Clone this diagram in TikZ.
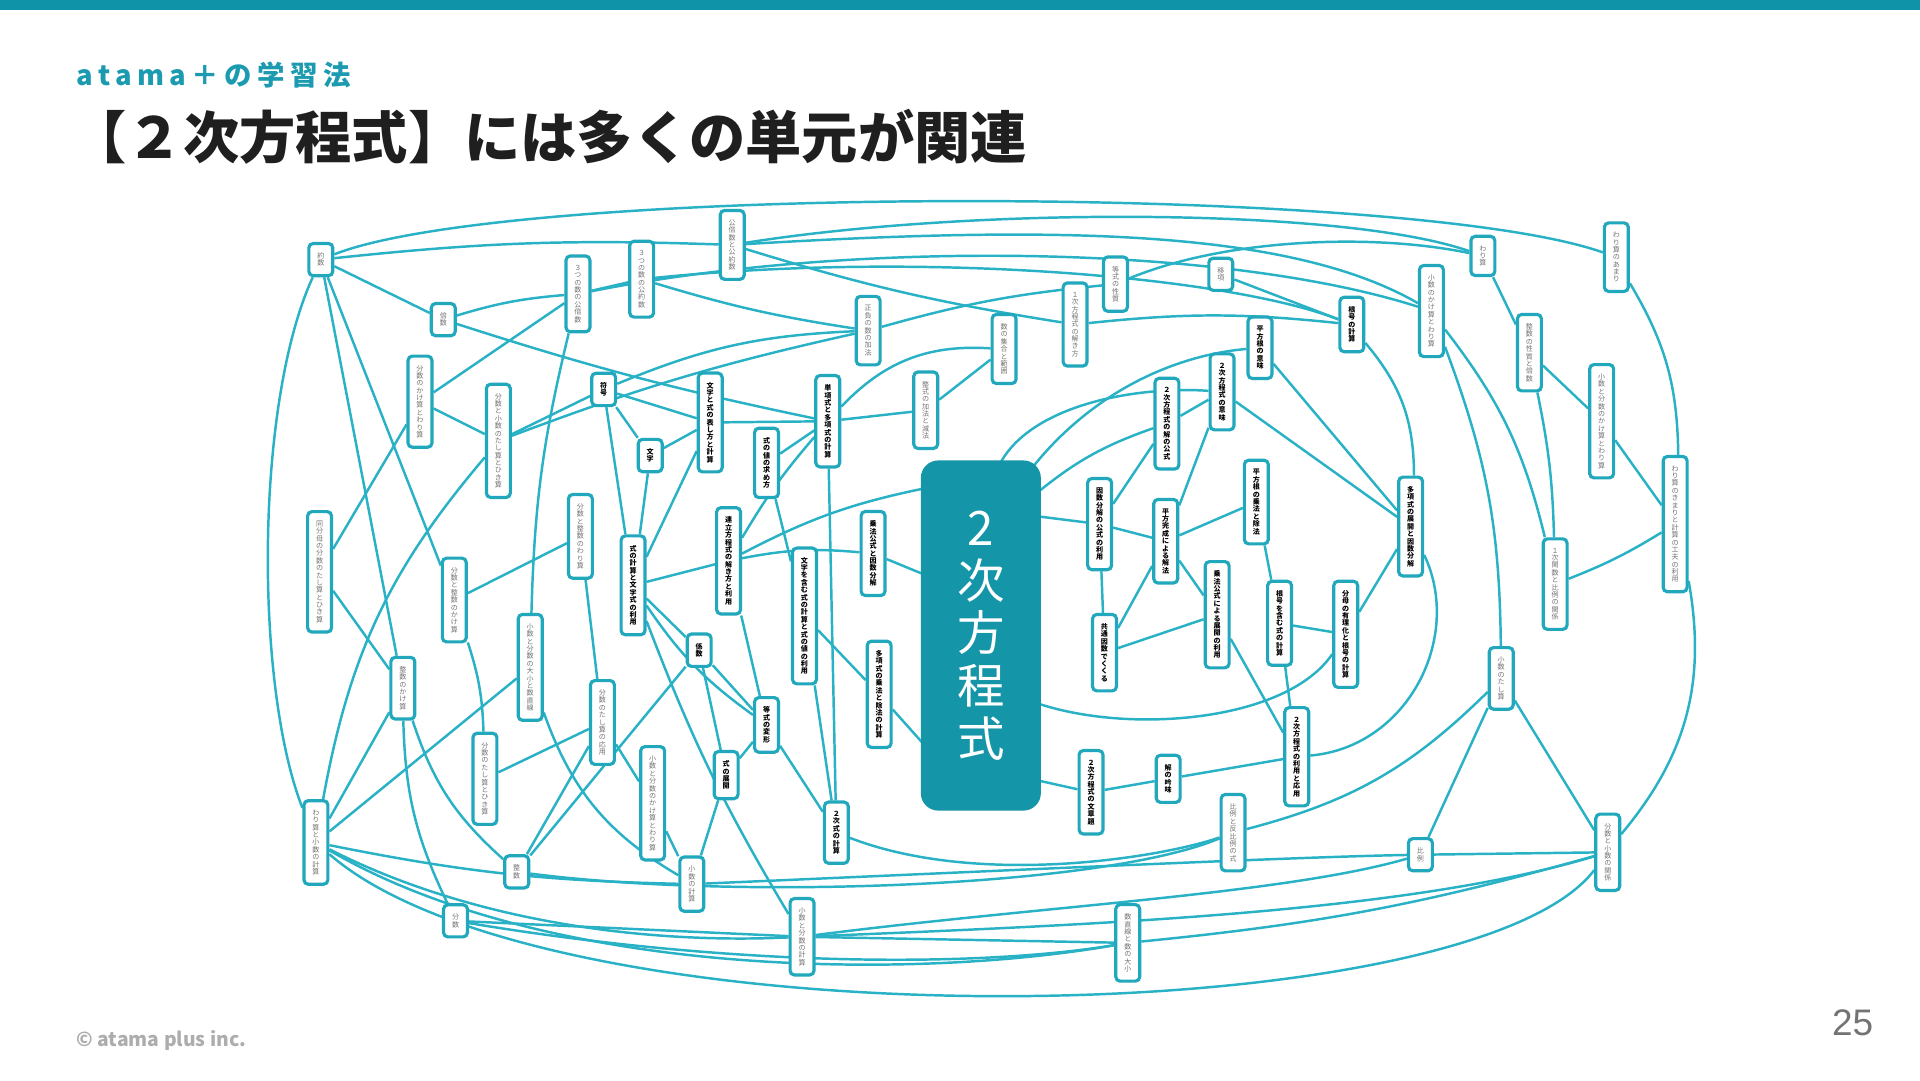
\documentclass[tikz,border=0pt]{standalone}
\usepackage{fontspec}
\setmainfont{Noto Sans CJK JP}
\newfontfamily\subfont[LetterSpace=20]{Noto Sans CJK JP}
\newfontfamily\numfont{Liberation Sans}
\XeTeXlinebreaklocale "ja"
\XeTeXlinebreakskip=0pt plus 1pt
\definecolor{barc}{HTML}{0E93A9}
\definecolor{linec}{HTML}{29B1C5}
\definecolor{boxc}{HTML}{22A8BC}
\definecolor{eqc}{HTML}{1595A8}
\definecolor{subc}{HTML}{1C9BB0}
\pgfdeclarelayer{bg}
\pgfsetlayers{bg,main}
\tikzset{
  unit/.style={draw=boxc, line width=0.9pt, fill=white, rounded corners=1.2pt,
    inner xsep=2.3pt, inner ysep=2.6pt, text width=2.2pt, align=center,
    font=\fontsize{2}{2.1}\selectfont, text=black!55},
  unitb/.style={unit, font=\fontsize{2}{2.1}\selectfont\bfseries, text=black},
  link/.style={draw=linec, line width=0.7pt},
}

\begin{document}
\begin{tikzpicture}[x=0.012245cm, y=-0.012245cm]
\useasboundingbox (0,0) rectangle (1568,882);
\fill[barc] (0,0) rectangle (1568,8);
\node[anchor=west, inner sep=0pt, text=subc, font=\subfont\bfseries\fontsize{7.8}{8}\selectfont] (sub) at (62,61) {atama＋の学習法};
\node[anchor=west, inner sep=0pt, text=black!88, font=\bfseries\fontsize{16}{17}\selectfont] (title) at (57,112) {【２次方程式】には多くの単元が関連};
\node[anchor=west, inner sep=0pt, text=black!32, font=\bfseries\fontsize{5.5}{6}\selectfont] (copy) at (62,850) {© atama plus inc.};
\node[text=black!55, font=\numfont\fontsize{10.5}{11}\selectfont] (page) at (1513,835) {25};

\node[fill=eqc, rounded corners=5pt, minimum width=1.2cm, minimum height=3.5cm, inner sep=0pt, text=white, align=center, font=\fontsize{13.5}{15}\selectfont] (eq) at (801,519) {2\\次\\方\\程\\式};

\node[unit] (u1) at (262,212) {約数};
\node[unit] (u2) at (362,261) {倍数};
\node[unit] (u3) at (472,240) {３つの数の公倍数};
\node[unit] (u4) at (524,228) {３つの数の公約数};
\node[unit] (u5) at (598,200) {公倍数と公約数};
\node[unit] (u6) at (709,270) {正負の数の加法};
\node[unit] (u7) at (343,328) {分数のかけ算とわり算};
\node[unit] (u8) at (407,360) {分数と小数のたし算とひき算};
\node[unitb] (u9) at (493,318) {符号};
\node[unitb] (u10) at (531,372) {文字};
\node[unitb] (u11) at (580,345) {文字と式の表し方と計算};
\node[unitb] (u12) at (626,378) {式の値の求め方};
\node[unitb] (u13) at (676,344) {単項式と多項式の計算};
\node[unit] (u14) at (756,335) {整式の加法と減法};
\node[unit] (u15) at (820,285) {数の集合と範囲};
\node[unit] (u16) at (878,265) {１次方程式の解き方};
\node[unit] (u17) at (911,232) {等式の性質};
\node[unit] (u18) at (997,224) {移項};
\node[unitb] (u19) at (1029,284) {平方根の意味};
\node[unitb] (u20) at (1104,265) {根号の計算};
\node[unitb] (u21) at (998,320) {２次方程式の意味};
\node[unitb] (u22) at (953,346) {２次方程式の解の公式};
\node[unitb] (u23) at (1026,410) {平方根の乗法と除法};
\node[unitb] (u24) at (898,428) {因数分解の公式の利用};
\node[unitb] (u25) at (952,442) {平方完成による解法};
\node[unitb] (u26) at (994,502) {乗法公式による展開の利用};
\node[unitb] (u27) at (902,533) {共通因数でくくる};
\node[unitb] (u28) at (1045,509) {根号を含む式の計算};
\node[unitb] (u29) at (1099,518) {分母の有理化と根号の計算};
\node[unitb] (u30) at (1152,430) {多項式の展開と因数分解};
\node[unitb] (u31) at (1059,618) {２次方程式の利用と応用};
\node[unitb] (u32) at (954,636) {解の吟味};
\node[unitb] (u33) at (891,647) {２次方程式の文章題};
\node[unit] (u34) at (1007,680) {比例と反比例の式};
\node[unit] (u35) at (1160,698) {比例};
\node[unit] (u36) at (1211,209) {わり算};
\node[unit] (u37) at (1169,254) {小数のかけ算とわり算};
\node[unit] (u38) at (1249,288) {整数の性質と倍数};
\node[unit] (u39) at (1320,210) {わり算のあまり};
\node[unit] (u40) at (1308,344) {小数と分数のかけ算とわり算};
\node[unit] (u41) at (1368,428) {わり算のきまりと計算の工夫の利用};
\node[unit] (u42) at (1270,477) {１次関数と比例の関係};
\node[unit] (u43) at (1226,554) {小数のたし算};
\node[unit] (u44) at (1313,696) {分数と小数の関係};
\node[unit] (u45) at (261,467) {同分母の分数のたし算とひき算};
\node[unit] (u46) at (371,490) {分数と整数のかけ算};
\node[unit] (u47) at (329,562) {整数のかけ算};
\node[unit] (u48) at (258,688) {わり算と小数の計算};
\node[unit] (u49) at (396,636) {分数のたし算とひき算};
\node[unit] (u50) at (433,545) {小数と分数の大小と数直線};
\node[unit] (u51) at (474,438) {分数と整数のわり算};
\node[unit] (u52) at (492,590) {分数のたし算の応用};
\node[unitb] (u53) at (517,478) {式の計算と文字式の利用};
\node[unitb] (u54) at (571,531) {係数};
\node[unitb] (u55) at (595,458) {連立方程式の解き方と利用};
\node[unitb] (u56) at (626,592) {等式の変形};
\node[unitb] (u57) at (593,633) {式の展開};
\node[unitb] (u58) at (657,503) {文字を含む式の計算と式の値の利用};
\node[unitb] (u59) at (713,452) {乗法公式と因数分解};
\node[unitb] (u60) at (718,567) {多項式の乗法と除法の計算};
\node[unitb] (u61) at (683,680) {２次式の計算};
\node[unit] (u62) at (533,656) {小数と分数のかけ算とわり算};
\node[unit] (u63) at (565,722) {小数の計算};
\node[unit] (u65) at (422,712) {整数};
\node[unit] (u66) at (372,752) {分数};
\node[unit] (u67) at (655,765) {小数と分数の計算};
\node[unit] (u68) at (921,770) {数直線と数の大小};

\begin{pgfonlayer}{bg}
\draw[link] (u1) .. controls (420,150) and (1150,150) .. (u39);
\draw[link] (u1) to[bend left=4] (u5);
\draw[link] (u1) -- (u2);
\draw[link] (u1) .. controls (208,330) and (208,560) .. (u48);
\draw[link] (u1) -- (u47);
\draw[link] (u1) -- (u46);
\draw[link] (u2) to[bend left=6] (u3);
\draw[link] (u2) to[bend right=3] (u13);
\draw[link] (u3) -- (u4);
\draw[link] (u3) to[bend right=6] (u50);
\draw[link] (u3) .. controls (700,195) and (1000,200) .. (u37);
\draw[link] (u4) to[bend right=4] (u6);
\draw[link] (u4) .. controls (750,205) and (1000,225) .. (u20);
\draw[link] (u5) .. controls (800,168) and (1100,170) .. (u36);
\draw[link] (u5) to[bend right=4] (u16);
\draw[link] (u5) .. controls (850,185) and (1050,185) .. (u37);
\draw[link] (u6) to[bend left=5] (u17);
\draw[link] (u17) .. controls (1000,195) and (1120,190) .. (u36);
\draw[link] (u7) -- (u3);
\draw[link] (u7) -- (u8);
\draw[link] (u45) -- (u7);
\draw[link] (u8) to[bend left=4] (u6);
\draw[link] (u8) -- (u9);
\draw[link] (u8) to[bend right=15] (u48);
\draw[link] (u9) to[bend left=10] (u6);
\draw[link] (u9) -- (u10);
\draw[link] (u9) -- (u11);
\draw[link] (u9) -- (u53);
\draw[link] (u10) -- (u11);
\draw[link] (u10) -- (u53);
\draw[link] (u11) -- (u53);
\draw[link] (u11) -- (u13);
\draw[link] (u12) -- (u13);
\draw[link] (u13) -- (u14);
\draw[link] (u13) to[bend left=25] (u15);
\draw[link] (u14) -- (u15);
\draw[link] (u13) -- (u61);
\draw[link] (u16) to[bend left=6] (u20);
\draw[link] (u18) -- (u20);
\draw[link] (u45) -- (u47);
\draw[link] (u47) -- (u48);
\draw[link] (u46) -- (u51);
\draw[link] (u46) to[bend left=8] (u49);
\draw[link] (u51) -- (u52);
\draw[link] (u52) -- (u49);
\draw[link] (u52) -- (u62);
\draw[link] (u52) -- (u65);
\draw[link] (u50) -- (u48);
\draw[link] (u47) to[bend right=12] (u66);
\draw[link] (u47) to[bend right=15] (u65);
\draw[link] (u50) to[bend right=20] (u63);
\draw[link] (u53) -- (u55);
\draw[link] (u53) -- (u54);
\draw[link] (u53) to[bend right=10] (u56);
\draw[link] (u53) to[bend right=5] (u67);
\draw[link] (u54) -- (u57);
\draw[link] (u54) -- (u56);
\draw[link] (u54) -- (u65);
\draw[link] (u55) -- (u56);
\draw[link] (u55) to[bend left=5] (u13);
\draw[link] (u55) to[bend left=8] (u59);
\draw[link] (u56) -- (u57);
\draw[link] (u57) -- (u63);
\draw[link] (u62) -- (u63);
\draw[link] (u56) -- (u61);
\draw[link] (u58) -- (u61);
\draw[link] (u12) -- (u58);
\draw[link] (u58) -- (u60);
\draw[link] (u55) to[bend left=8] ([xshift=2pt,yshift=42pt]eq.west);
\draw[link] (u59) -- ([xshift=2pt,yshift=17pt]eq.west);
\draw[link] (u60) -- ([xshift=2pt,yshift=-32pt]eq.west);
\draw[link] ([xshift=5pt,yshift=-2pt]eq.north) .. controls (840,330) and (930,315) .. (u21);
\draw[link] ([xshift=-4pt,yshift=-4pt]eq.north east) .. controls (890,320) and (960,290) .. (u19);
\draw[link] ([xshift=-2pt,yshift=40pt]eq.east) to[bend left=10] (u22);
\draw[link] ([xshift=-2pt,yshift=34pt]eq.east) -- (u24);
\draw[link] ([xshift=-2pt,yshift=-19pt]eq.east) .. controls (920,600) and (1050,590) .. (u29);
\draw[link] ([xshift=-2pt,yshift=-41pt]eq.east) -- (u33);
\draw[link] (u24) -- (u22);
\draw[link] (u24) -- (u25);
\draw[link] (u24) -- (u27);
\draw[link] (u25) -- (u27);
\draw[link] (u25) -- (u21);
\draw[link] (u22) -- (u21);
\draw[link] (u25) -- (u23);
\draw[link] (u25) -- (u26);
\draw[link] (u27) -- (u26);
\draw[link] (u23) -- (u28);
\draw[link] (u28) -- (u29);
\draw[link] (u28) -- (u31);
\draw[link] (u26) -- (u31);
\draw[link] (u29) -- (u30);
\draw[link] (u30) .. controls (1195,520) and (1150,610) .. (u31);
\draw[link] (u21) -- (u30);
\draw[link] (u19) -- (u30);
\draw[link] (u20) to[bend left=20] (u30);
\draw[link] (u33) -- (u32);
\draw[link] (u32) -- (u31);
\draw[link] (u61) .. controls (800,725) and (950,700) .. (u34);
\draw[link] (u36) -- (u38);
\draw[link] (u38) -- (u40);
\draw[link] (u38) to[bend left=5] (u42);
\draw[link] (u37) to[bend left=12] (u42);
\draw[link] (u37) to[bend left=10] (u43);
\draw[link] (u40) -- (u41);
\draw[link] (u42) to[bend right=5] (u41);
\draw[link] (u39) to[bend left=15] (u41);
\draw[link] (u41) to[bend left=25] (u44);
\draw[link] (u43) -- (u44);
\draw[link] (u43) -- (u35);
\draw[link] (u35) -- (u44);
\draw[link] (u43) to[bend left=15] (u34);
\draw[link] (u48) to[bend right=5] (u63);
\draw[link] (u63) .. controls (800,712) and (1050,700) .. (u35);
\draw[link] (u48) .. controls (400,760) and (550,770) .. (u67);
\draw[link] (u66) -- (u67);
\draw[link] (u66) .. controls (600,790) and (800,790) .. (u68);
\draw[link] (u48) .. controls (450,800) and (750,800) .. (u68);
\draw[link] (u67) -- (u68);
\draw[link] (u67) .. controls (850,740) and (1050,730) .. (u35);
\draw[link] (u67) .. controls (900,755) and (1150,745) .. (u44);
\draw[link] (u68) to[bend right=5] (u44);
\draw[link] (u48) .. controls (450,855) and (1200,845) .. (u44);
\draw[link] (u65) .. controls (600,735) and (900,725) .. (u34);
\end{pgfonlayer}
\end{tikzpicture}
\end{document}
